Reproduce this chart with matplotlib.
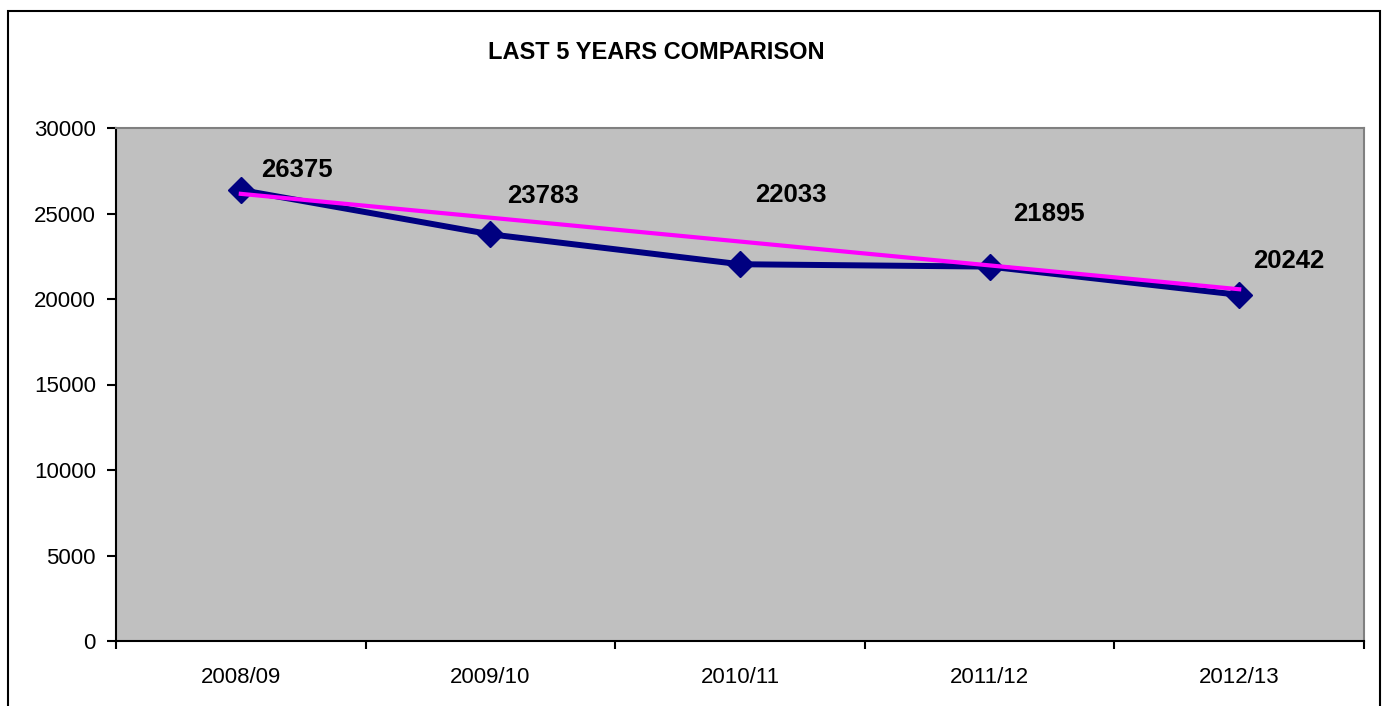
import matplotlib
matplotlib.use("Agg")
import numpy as np
from matplotlib import pyplot as plt
from matplotlib.patches import Rectangle

plt.rcParams['font.family'] = ['Liberation Sans', 'DejaVu Sans']

years = ['2008/09', '2009/10', '2010/11', '2011/12', '2012/13']
totals = [26375, 23783, 22033, 21895, 20242]
trend = [26150, 20570]

# label offsets (points) from each marker, as placed in the original
label_offsets = [(14.4, 9.4), (12.2, 22.3), (10.8, 44.6), (16.6, 33.1), (10.1, 19.4)]

fig = plt.figure(figsize=(13.86, 7.06), dpi=100)
ax = fig.add_axes([116/1386, 1-641/706, (1364-116)/1386, (641-128)/706])
ax.set_facecolor('#C0C0C0')

x = np.arange(len(years))
ax.plot(x, totals, color='#000080', lw=4.3, marker='D', markersize=13.5,
        markerfacecolor='#000080', markeredgecolor='#000080', zorder=3)
ax.plot([x[0], x[-1]], trend, color='#FF00FF', lw=3, zorder=4)

for xi, v, off in zip(x, totals, label_offsets):
  ax.annotate(str(v), (xi, v), xytext=off, textcoords='offset points',
              ha='left', va='baseline', fontsize=18.5, fontweight='bold', color='black')

ax.set_xlim(-0.5, len(years)-0.5)
ax.set_ylim(0, 30000)
ax.set_yticks(range(0, 30001, 5000))
ax.set_xticks(x)
ax.set_xticklabels(years)
ax.set_xticks(np.arange(-0.5, len(years), 1), minor=True)
ax.tick_params(axis='x', which='major', length=0, pad=19, labelsize=16)
ax.tick_params(axis='x', which='minor', length=6, width=1.5, direction='out')
ax.tick_params(axis='y', length=6.5, width=1.5, pad=8, labelsize=16)

for s in ['left', 'bottom']:
  ax.spines[s].set_color('black')
  ax.spines[s].set_linewidth(1.5)
for s in ['top', 'right']:
  ax.spines[s].set_color('#808080')
  ax.spines[s].set_linewidth(1.5)

fig.text(656/1386, 1-59.3/706, 'LAST 5 YEARS COMPARISON', ha='center', va='baseline',
         fontsize=17, fontweight='bold')

fig.patches.append(Rectangle((8/1386, -0.05), (1380-8)/1386, 0.05+1-11/706,
                             transform=fig.transFigure, fill=False,
                             edgecolor='black', lw=1.5))

fig.savefig('out.png', dpi=100)
